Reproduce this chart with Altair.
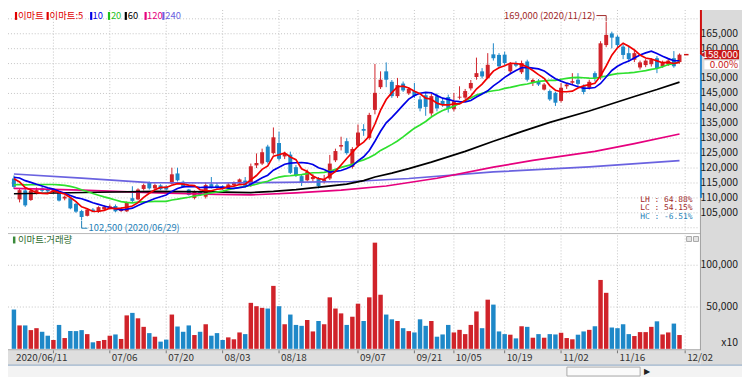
import altair as alt
import numpy as np
import pandas as pd

# ---------------- values (prices in thousand KRW) ----------------
opens = [116.5,109.5,112.5,109.3,111.8,113.2,113.0,112.0,111.7,109.8,
         109.9,108.0,105.6,104.0,106.1,105.3,106.2,106.5,107.3,105.6,
         105.5,109.9,109.5,113.0,115.0,113.2,114.2,113.8,114.8,118.2,
         115.4,112.8,110.0,112.1,110.4,114.6,114.2,113.8,113.2,114.3,
         114.8,115.8,114.6,120.9,121.5,127.2,125.0,128.4,123.9,124.5,
         120.3,117.3,115.9,116.3,116.3,115.4,116.5,122.6,127.2,129.0,
         120.4,127.5,133.1,130.1,139.5,147.1,152.4,148.9,144.1,148.3,
         145.0,145.8,143.0,144.4,138.3,144.1,142.5,143.8,139.7,143.6,
         143.6,146.7,150.5,152.4,150.2,158.1,157.9,158.0,152.4,155.0,
         152.1,155.7,148.5,149.2,146.3,145.8,145.2,142.5,147.4,148.6,
         149.6,147.4,146.9,151.8,150.7,161.2,165.1,164.0,160.7,158.5,
         156.3,153.7,154.5,154.8,156.8,154.2,154.8,156.8,155.5]
highs = [117.5,113.2,113.0,112.8,113.5,113.8,113.5,112.8,112.2,110.8,
         110.2,108.3,106.0,106.5,106.6,107.2,107.5,107.8,107.8,106.8,
         108.8,113.9,113.2,114.8,115.5,114.8,114.6,114.2,120.1,120.1,
         115.8,113.0,112.5,112.4,115.2,117.0,115.0,114.2,115.0,115.5,
         116.5,117.0,121.5,124.9,126.5,127.8,133.6,132.2,125.5,125.5,
         121.0,118.0,119.5,118.0,117.0,117.7,124.4,126.5,130.5,130.0,
         127.0,134.6,134.7,138.5,154.9,152.4,155.4,149.5,150.2,149.0,
         147.0,148.5,144.1,145.2,145.0,145.0,143.5,144.6,145.2,147.4,
         146.5,149.5,157.0,153.5,158.5,161.8,158.5,159.0,155.5,155.8,
         156.0,156.3,150.0,149.8,148.5,146.3,145.6,148.5,148.5,151.8,
         151.8,148.0,149.6,152.4,162.5,169.0,165.7,164.5,161.5,161.0,
         159.5,156.0,156.5,156.8,157.5,156.0,156.5,159.2,158.4]
lows = [113.0,108.5,107.0,109.0,111.2,112.0,111.8,111.5,108.8,109.2,
        106.2,105.0,102.5,103.8,105.3,105.0,105.8,106.2,105.2,105.3,
        105.3,108.5,109.2,112.5,112.8,112.8,112.6,112.5,114.5,115.5,
        113.5,110.8,109.5,110.7,109.8,113.2,113.0,112.7,112.8,114.0,
        114.4,113.5,113.7,120.0,121.0,121.5,124.5,122.5,123.0,118.0,
        117.0,114.0,115.5,115.5,113.2,114.8,116.0,122.0,125.9,124.5,
        119.8,127.0,130.8,129.5,138.0,146.5,147.1,143.5,143.5,145.5,
        144.5,143.5,139.0,137.5,137.5,139.0,140.5,138.6,139.0,143.0,
        143.0,146.0,149.6,150.0,149.8,156.0,153.5,154.5,151.5,153.8,
        151.5,149.0,147.5,147.5,146.0,142.5,140.8,142.0,146.5,148.0,
        147.4,144.7,146.3,149.0,149.6,160.5,160.1,160.5,156.5,155.5,
        155.5,153.0,153.8,154.0,151.8,153.6,154.2,153.6,155.0]
closes = [113.7,112.6,107.5,112.4,112.6,112.4,112.2,112.5,109.1,110.4,
          106.5,105.4,103.6,106.1,105.6,106.9,107.0,107.2,105.5,106.3,
          108.4,109.0,112.8,114.3,113.2,114.3,112.9,112.8,117.9,115.9,
          113.7,111.0,112.1,111.0,114.3,113.6,113.5,113.2,114.5,115.0,
          116.2,114.0,120.6,121.7,125.3,122.0,130.3,123.1,124.8,118.4,
          117.5,115.0,118.7,117.0,114.0,116.2,121.5,125.7,127.7,125.0,
          126.4,131.9,132.5,137.8,145.2,149.6,149.6,144.1,147.8,146.0,
          146.5,144.1,140.0,140.5,144.1,140.0,141.1,140.0,142.4,143.9,
          145.8,148.5,151.8,150.7,154.6,156.8,154.1,155.2,154.8,154.3,
          155.2,149.6,149.5,148.0,148.0,143.0,141.9,146.9,148.0,149.1,
          148.2,145.5,148.9,150.2,161.8,164.6,163.7,161.2,157.9,156.5,
          158.5,155.4,156.0,156.2,153.5,155.4,156.0,154.1,158.0]
# volume in the axis unit (x10 shares, thousands)
volumes = [47,28,28,22.4,24.7,20.4,15.7,10.6,28.6,12.9,
           21.2,21.2,22.4,17.6,7.8,9.4,10.6,15.7,17.2,11.8,
           40,43,36.5,26.3,18.8,14.5,8.6,11,41,26.7,
           20.4,28,16.5,20.4,29.4,15.7,18.8,10.6,13.7,11.4,
           19.6,17.6,55,51,49,48.2,75.3,51,29.4,41,
           28.6,27.5,34.5,20.8,33.3,29.4,61.6,48.2,42.4,28.6,
           38.4,54,33.3,61.6,127,64.7,41,35.3,33.3,24.7,
           21.2,19.6,35.3,27.5,33.3,14.5,17.2,28.6,19.6,22.7,
           17.6,28.6,44.7,24.7,58.8,52.9,20.8,17.6,16.9,12.5,
           27,26.3,13.3,17.6,13.3,17.6,17.2,19.2,12.9,11.4,
           16.9,20.8,22.7,27,82.4,67,25.5,24.7,29.4,17.6,
           15.3,20,20,26.3,32.9,17.2,19.6,30.2,16.5]
# closes before the visible window, estimated from where the 5/10/20 lines start
pre_closes = [110.0,110.5,111.0,111.5,112.0,112.0,112.5,112.0,113.0,113.5,
              115.0,116.5,118.0,119.0,118.5,118.0,117.0,116.5,117.0]

# long moving averages
ma60_idx = [0,15,25,35,42,46,50,55,59,62,64,67,70,74,80,85,90,95,102,110,114,118]
ma60_val = [111.4,111.9,112.2,112.0,111.8,112.2,112.8,113.8,114.6,115.8,117.0,118.3,
            119.8,122.0,125.6,129.0,132.2,135.3,139.1,144.0,146.3,148.8]
ma120_idx = [0,12,24,36,42,50,58,66,75,85,92,103,110,118]
ma120_val = [113.2,112.6,111.8,111.2,111.0,111.7,112.6,114.0,116.6,120.3,122.6,125.6,128.2,131.4]
ma240_idx = [0,12,24,36,48,60,70,85,102,118]
ma240_val = [118.0,116.6,115.1,115.0,115.2,115.5,116.5,118.7,120.4,122.5]

holidays = ["2020-08-17", "2020-09-30", "2020-10-01", "2020-10-02", "2020-10-09"]
grid_idx = [7, 17, 27, 37, 47, 61, 71, 78, 87, 97, 107, 119]
label_idx = [0, 17, 27, 37, 47, 61, 71, 78, 87, 97, 107, 119]
label_txt = ["2020/06/11", "07/06", "07/20", "08/03", "08/18", "09/07", "09/21",
             "10/05", "10/19", "11/02", "11/16", "12/02"]
price_ticks = [105, 110, 115, 120, 125, 130, 135, 140, 145, 150, 160, 165]
price_grid = [100, 105, 110, 115, 120, 125, 130, 135, 140, 145, 150, 155, 160, 165, 170]
vol_ticks = [50, 100]
last_change = "0.00%"

legend_txt = ["이마트", "이마트:5", "10", "20", "60", "120", "240"]
legend_col = ["#E00000", "#E00000", "#0000E6", "#1FC01F", "#000000", "#E6007E", "#6A62E0"]
legend_sq = [7, 39, 83, 101, 118, 138, 156]
legend_tx = [10, 42, 85.5, 104, 121, 140.5, 159]

# ---------------- derived tables ----------------
RED, BLUE = "#D0232A", "#1E88C8"
W, H = 742, 371
PXX = 5.78          # px per trading day
PXY = 371 / (172.955 - 50.0)  # px per 1,000 KRW

n = len(closes)
df = pd.DataFrame(dict(i=range(n), o=opens, h=highs, l=lows, c=closes, v=volumes))
df["col"] = np.where(df.c >= df.o, RED, BLUE)
df["base"] = 0.0

allc = pd.Series(pre_closes + closes)
mas = {}
for k in (5, 10, 20):
    mas[k] = pd.DataFrame({"i": range(n), "v": allc.rolling(k).mean().iloc[len(pre_closes):].values})
mas[60] = pd.DataFrame({"i": ma60_idx, "v": ma60_val})
mas[120] = pd.DataFrame({"i": ma120_idx, "v": ma120_val})
mas[240] = pd.DataFrame({"i": ma240_idx, "v": ma240_val})

days = [d for d in pd.bdate_range("2020-06-11", "2020-12-01") if d.strftime("%Y-%m-%d") not in holidays]
ihi = int(np.argmax(highs)); ilo = int(np.argmin(lows))
hi, lo, last = highs[ihi], lows[ilo], closes[-1]

XS = alt.Scale(domain=[-0.173, -0.173 + W / PXX], nice=False, zero=False)
PS = alt.Scale(domain=[50.0, 172.955], nice=False, zero=False)
VS = alt.Scale(domain=[-33.7, 405.3], nice=False, zero=False)

def X(f="i"):
    return alt.X(f"{f}:Q", scale=XS, axis=None)

def PY(f):
    return alt.Y(f"{f}:Q", scale=PS, axis=None)

def VY(f):
    return alt.Y(f"{f}:Q", scale=VS, axis=None)

one = pd.DataFrame({"z": [0]})
KRF = "Noto Sans CJK KR"
NUMF = "Noto Sans CJK KR"
NFS = 10.5

def box(x, x2, y, y2, fill, stroke=None):
    kw = dict(fill=fill, strokeWidth=1, stroke=stroke) if stroke else dict(fill=fill, strokeWidth=0)
    return alt.Chart(one).mark_rect(**kw).encode(
        x=alt.value(x), x2=alt.value(x2), y=alt.value(y), y2=alt.value(y2))

layers = []
# panels
layers.append(box(700, W, 0, 359, "#DADADA"))
layers.append(box(0, 700, 344, 359, "#DEDEDE"))
layers.append(box(0, W, 359, H, "#F3F3F3"))
layers.append(alt.Chart(one).mark_rule(color="#9EB4CC", strokeWidth=1.5).encode(
    x=alt.value(0), x2=alt.value(W), y=alt.value(359)))
layers.append(box(565, 639, 361, 370, "#FAFAFA", "#AAAAAA"))

# grids
layers.append(alt.Chart(pd.DataFrame({"p": price_grid})).mark_rule(
    color="#C4C4C4", strokeDash=[1, 2]).encode(x=alt.value(0), x2=alt.value(699), y=PY("p")))
layers.append(alt.Chart(pd.DataFrame({"v": vol_ticks})).mark_rule(
    color="#C4C4C4", strokeDash=[1, 2]).encode(x=alt.value(0), x2=alt.value(699), y=VY("v")))
gdf = pd.DataFrame({"i": grid_idx})
layers.append(alt.Chart(gdf).mark_rule(color="#C4C4C4", strokeDash=[1, 2]).encode(
    x=X(), y=alt.value(0), y2=alt.value(225)))
layers.append(alt.Chart(gdf).mark_rule(color="#C4C4C4", strokeDash=[1, 2]).encode(
    x=X(), y=alt.value(228), y2=alt.value(343)))
layers.append(alt.Chart(gdf).mark_rule(color="#777777").encode(
    x=X(), y=alt.value(344), y2=alt.value(347)))
# separators / borders
layers.append(alt.Chart(one).mark_rule(color="#B8B8B8").encode(
    x=alt.value(0), x2=alt.value(700), y=alt.value(226)))
layers.append(alt.Chart(one).mark_rule(color="#A0A0A0").encode(
    x=alt.value(0), x2=alt.value(700), y=alt.value(343.5)))
layers.append(alt.Chart(one).mark_rule(color="#A0A0A0").encode(
    x=alt.value(700), y=alt.value(0), y2=alt.value(344)))
layers.append(alt.Chart(pd.DataFrame({"a": [172.955], "b": [last]})).mark_rule(
    color="#D01010", strokeWidth=2).encode(x=alt.value(700.5), y=PY("a"), y2=alt.Y2("b")))
layers.append(alt.Chart(pd.DataFrame({"a": [last], "b": [110.0]})).mark_rule(
    color="#2A8AD0", strokeWidth=2).encode(x=alt.value(700.5), y=PY("a"), y2=alt.Y2("b")))

# candles
layers.append(alt.Chart(df).mark_rule(strokeWidth=1).encode(
    x=X(), y=PY("l"), y2=alt.Y2("h"), color=alt.Color("col:N", scale=None)))
layers.append(alt.Chart(df).mark_bar(size=4).encode(
    x=X(), y=PY("o"), y2=alt.Y2("c"), color=alt.Color("col:N", scale=None)))

# moving averages
for k, col in [(240, "#6A62E0"), (120, "#E6007E"), (60, "#000000"),
               (20, "#2EE02E"), (10, "#0000E6"), (5, "#F00000")]:
    layers.append(alt.Chart(mas[k]).mark_line(color=col, strokeWidth=1.7).encode(
        x=X(), y=PY("v")))

# current price dash
layers.append(alt.Chart(pd.DataFrame({"a": [n - 0.2], "b": [n + 0.6], "p": [last]})).mark_rule(
    color="#D01010", strokeWidth=1.5).encode(x=X("a"), x2=alt.X2("b"), y=PY("p")))

# volume
layers.append(alt.Chart(df).mark_bar(size=4.5).encode(
    x=X(), y=VY("v"), y2=alt.Y2("base"), color=alt.Color("col:N", scale=None)))

# high / low annotations
hdf = pd.DataFrame({"i": [ihi], "a": [ihi - 10 / PXX], "p": [hi],
                    "y1": [hi + 6.3 / PXY], "y2": [hi + 0.6 / PXY],
                    "t": [f"{int(round(hi * 1000)):,} ({days[ihi].strftime('%Y/%m/%d')})"]})
layers.append(alt.Chart(hdf).mark_rule(color="#A02828").encode(x=X("a"), x2=alt.X2("i"), y=PY("y1")))
layers.append(alt.Chart(hdf).mark_rule(color="#A02828").encode(x=X("i"), y=PY("y1"), y2=alt.Y2("y2")))
layers.append(alt.Chart(hdf).mark_text(align="right", baseline="middle", dx=-11, font=NUMF,
                                       fontSize=9.5, color="#A02828").encode(x=X("i"), y=PY("y1"), text="t:N"))
ldf = pd.DataFrame({"i": [ilo], "b": [ilo + 6 / PXX], "p": [lo],
                    "y1": [lo - 0.6 / PXY], "y2": [lo - 8 / PXY],
                    "t": [f"{int(round(lo * 1000)):,} ({days[ilo].strftime('%Y/%m/%d')})"]})
layers.append(alt.Chart(ldf).mark_rule(color="#1E7FB8").encode(x=X("i"), y=PY("y1"), y2=alt.Y2("y2")))
layers.append(alt.Chart(ldf).mark_rule(color="#1E7FB8").encode(x=X("i"), x2=alt.X2("b"), y=PY("y2")))
layers.append(alt.Chart(ldf).mark_text(align="left", baseline="middle", dx=7, font=NUMF,
                                       fontSize=9.5, color="#1E7FB8").encode(x=X("i"), y=PY("y2"), text="t:N"))

# LH / LC / HC
stats = pd.DataFrame({
    "t": [f"LH : {(hi - lo) / lo * 100:.2f}%", f"LC : {(last - lo) / lo * 100:.2f}%",
          f"HC : {(last - hi) / hi * 100:.2f}%"],
    "y": [192, 200.5, 209], "c": ["#A02828", "#A02828", "#1E7FB8"]})
layers.append(alt.Chart(stats).mark_text(align="right", baseline="middle", font="DejaVu Sans Mono",
                                         fontSize=8).encode(
    x=alt.value(692), y=alt.Y("y:Q", scale=None), text="t:N", color=alt.Color("c:N", scale=None)))

# right price axis labels
pl = pd.DataFrame({"p": price_ticks, "t": [f"{int(p * 1000):,}" for p in price_ticks]})
layers.append(alt.Chart(pl).mark_text(align="right", baseline="middle", font=NUMF, fontSize=NFS,
                                      color="#1A1A1A").encode(x=alt.value(738), y=PY("p"), text="t:N"))
vl = pd.DataFrame({"v": vol_ticks, "t": [f"{int(v * 1000):,}" for v in vol_ticks]})
layers.append(alt.Chart(vl).mark_text(align="right", baseline="middle", font=NUMF, fontSize=NFS,
                                      color="#1A1A1A").encode(x=alt.value(738), y=VY("v"), text="t:N"))
layers.append(alt.Chart(pd.DataFrame({"t": ["x10"]})).mark_text(
    align="right", baseline="middle", font=NUMF, fontSize=NFS, color="#1A1A1A").encode(
    x=alt.value(738), y=alt.value(337), text="t:N"))

# current price box
cp = pd.DataFrame({"p": [last], "a": [last + 4.6 / PXY], "b": [last - 4.6 / PXY],
                   "t": [f"{int(last * 1000):,}"]})
layers.append(alt.Chart(cp).mark_rect(fill="#C81818").encode(
    x=alt.value(704), x2=alt.value(739), y=PY("a"), y2=alt.Y2("b")))
layers.append(alt.Chart(cp).mark_point(shape="triangle-left", filled=True, size=22, color="#C81818",
                                       opacity=1).encode(x=alt.value(702), y=PY("p")))
layers.append(alt.Chart(cp).mark_text(align="right", baseline="middle", font=NUMF, fontSize=10,
                                      color="white").encode(x=alt.value(738), y=PY("p"), text="t:N"))
layers.append(box(704, 739, 51, 60, "white"))
layers.append(alt.Chart(pd.DataFrame({"t": [last_change]})).mark_text(
    align="right", baseline="middle", font=NUMF, fontSize=10, color="#C81818").encode(
    x=alt.value(738), y=alt.value(56), text="t:N"))

# date labels
dl = pd.DataFrame({"i": label_idx, "t": label_txt})
layers.append(alt.Chart(dl).mark_text(align="left", baseline="middle", dx=2, font=NUMF, fontSize=10,
                                      color="#333333").encode(x=X(), y=alt.value(352), text="t:N"))

# legend
lg = pd.DataFrame({"sx": legend_sq, "tx": legend_tx, "t": legend_txt, "c": legend_col})
layers.append(alt.Chart(lg).mark_rect().encode(
    x=alt.X("sx:Q", scale=None), x2=alt.X2("sx2:Q"), y=alt.value(2), y2=alt.value(10),
    color=alt.Color("c:N", scale=None)).transform_calculate(sx2="datum.sx + 2.2"))
layers.append(alt.Chart(lg).mark_text(align="left", baseline="middle", font=KRF, fontSize=9.5).encode(
    x=alt.X("tx:Q", scale=None), y=alt.value(6.5), text="t:N", color=alt.Color("c:N", scale=None)))
layers.append(box(5, 7.5, 229, 236, "#3A8A3A"))
layers.append(alt.Chart(pd.DataFrame({"t": ["이마트:거래량"]})).mark_text(
    align="left", baseline="middle", font=KRF, fontSize=9.5, color="#2E6B2E").encode(
    x=alt.value(10), y=alt.value(233), text="t:N"))
layers.append(box(686, 691, 229, 234, "#E6E6E6", "#A8A8A8"))
layers.append(box(693, 698, 229, 234, "#E6E6E6", "#A8A8A8"))
layers.append(alt.Chart(pd.DataFrame({"t": ["▶"]})).mark_text(
    align="center", baseline="middle", fontSize=8, color="#222222").encode(
    x=alt.value(646), y=alt.value(366), text="t:N"))

chart = alt.layer(*layers).resolve_scale(y="independent").properties(
    width=W, height=H, padding=0, background="white",
    autosize=alt.AutoSizeParams(type="none")
).configure_view(stroke=None)

chart.save("out.html", embed_options={"renderer": "svg", "actions": False})
